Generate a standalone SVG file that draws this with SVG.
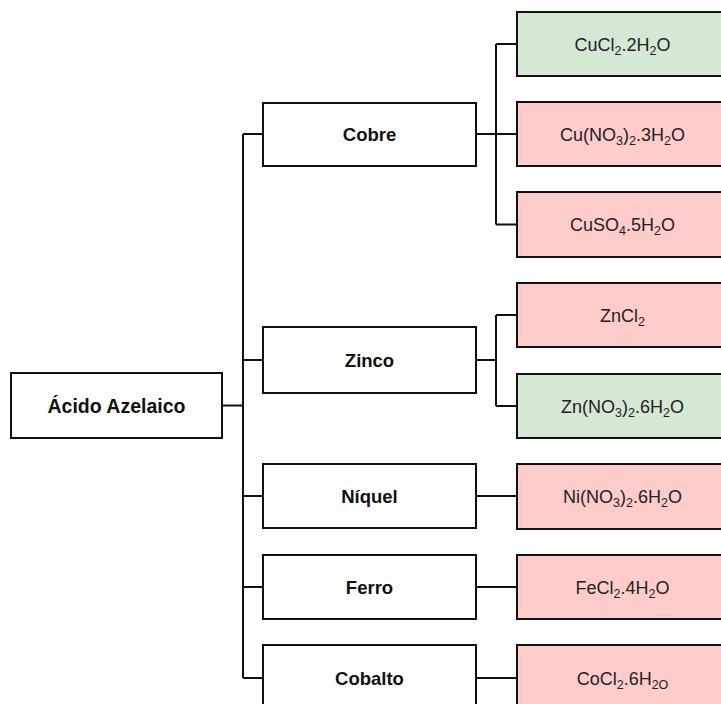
<svg xmlns="http://www.w3.org/2000/svg" width="721" height="704" viewBox="0 0 721 704">
  <style>
    .box { fill: #ffffff; stroke: #111111; stroke-width: 2; }
    .ok { fill: #d5e8d4; stroke: #111111; stroke-width: 2; }
    .no { fill: #ffcccc; stroke: #111111; stroke-width: 2; }
    .lbl { font-family: "Liberation Sans", Arial, sans-serif; font-weight: bold; font-size: 18.5px; fill: #111111; text-anchor: middle; }
    .root { font-size: 19.5px; }
    .chem { font-family: "Liberation Sans", Arial, sans-serif; font-size: 18px; fill: #222222; text-anchor: middle; }
    .sub { font-size: 12.5px; }
    .wire { fill: none; stroke: #111111; stroke-width: 2; }
  </style>
  <rect width="721" height="704" fill="#ffffff"/>

  <!-- connectors -->
  <g id="connectors" class="wire">
    <path d="M222 405.5 H243"/>
    <path d="M243 134 V678"/>
    <path d="M243 134 H263 M243 360 H263 M243 496 H263 M243 587 H263 M243 678 H263"/>
    <path d="M476 134 H517 M496 44 V224.5 M496 44 H517 M496 224.5 H517"/>
    <path d="M476 360 H496 M496 315 V406 M496 315 H517 M496 406 H517"/>
    <path d="M476 496 H517 M476 587 H517 M476 678 H517"/>
  </g>

  <!-- root -->
  <g id="acido-azelaico">
    <rect class="box" x="11" y="373" width="211" height="65"/>
    <text class="lbl root" x="116.5" y="412.5">Ácido Azelaico</text>
  </g>

  <!-- metals -->
  <g id="cobre">
    <rect class="box" x="263" y="103" width="213" height="63"/>
    <text class="lbl" x="369.5" y="141">Cobre</text>
  </g>
  <g id="zinco">
    <rect class="box" x="263" y="327" width="213" height="66"/>
    <text class="lbl" x="369.5" y="366.5">Zinco</text>
  </g>
  <g id="niquel">
    <rect class="box" x="263" y="464" width="213" height="64"/>
    <text class="lbl" x="369.5" y="502.5">Níquel</text>
  </g>
  <g id="ferro">
    <rect class="box" x="263" y="555" width="213" height="64"/>
    <text class="lbl" x="369.5" y="593.5">Ferro</text>
  </g>
  <g id="cobalto">
    <rect class="box" x="263" y="645" width="213" height="66"/>
    <text class="lbl" x="369.5" y="684.5">Cobalto</text>
  </g>

  <!-- salts -->
  <g id="cucl2">
    <rect class="ok" x="517" y="12" width="212" height="64"/>
    <text class="chem" x="622.5" y="50.5">CuCl<tspan class="sub" dy="4">2</tspan><tspan dy="-4">.2H</tspan><tspan class="sub" dy="4">2</tspan><tspan dy="-4">O</tspan></text>
  </g>
  <g id="cuno3">
    <rect class="no" x="517" y="102" width="212" height="64"/>
    <text class="chem" x="622.5" y="140.5">Cu(NO<tspan class="sub" dy="4">3</tspan><tspan dy="-4">)</tspan><tspan class="sub" dy="4">2</tspan><tspan dy="-4">.3H</tspan><tspan class="sub" dy="4">2</tspan><tspan dy="-4">O</tspan></text>
  </g>
  <g id="cuso4">
    <rect class="no" x="517" y="192" width="212" height="65"/>
    <text class="chem" x="622.5" y="231">CuSO<tspan class="sub" dy="4">4</tspan><tspan dy="-4">.5H</tspan><tspan class="sub" dy="4">2</tspan><tspan dy="-4">O</tspan></text>
  </g>
  <g id="zncl2">
    <rect class="no" x="517" y="283" width="212" height="64"/>
    <text class="chem" x="622.5" y="321.5">ZnCl<tspan class="sub" dy="4">2</tspan></text>
  </g>
  <g id="znno3">
    <rect class="ok" x="517" y="374" width="212" height="64"/>
    <text class="chem" x="622.5" y="412.5">Zn(NO<tspan class="sub" dy="4">3</tspan><tspan dy="-4">)</tspan><tspan class="sub" dy="4">2</tspan><tspan dy="-4">.6H</tspan><tspan class="sub" dy="4">2</tspan><tspan dy="-4">O</tspan></text>
  </g>
  <g id="nino3">
    <rect class="no" x="517" y="464" width="212" height="65"/>
    <text class="chem" x="622.5" y="503">Ni(NO<tspan class="sub" dy="4">3</tspan><tspan dy="-4">)</tspan><tspan class="sub" dy="4">2</tspan><tspan dy="-4">.6H</tspan><tspan class="sub" dy="4">2</tspan><tspan dy="-4">O</tspan></text>
  </g>
  <g id="fecl2">
    <rect class="no" x="517" y="555" width="212" height="64"/>
    <text class="chem" x="622.5" y="593.5">FeCl<tspan class="sub" dy="4">2</tspan><tspan dy="-4">.4H</tspan><tspan class="sub" dy="4">2</tspan><tspan dy="-4">O</tspan></text>
  </g>
  <g id="cocl2">
    <rect class="no" x="517" y="645" width="212" height="66"/>
    <text class="chem" x="622.5" y="684.5">CoCl<tspan class="sub" dy="4">2</tspan><tspan dy="-4">.6H</tspan><tspan class="sub" dy="4">2O</tspan></text>
  </g>
</svg>
